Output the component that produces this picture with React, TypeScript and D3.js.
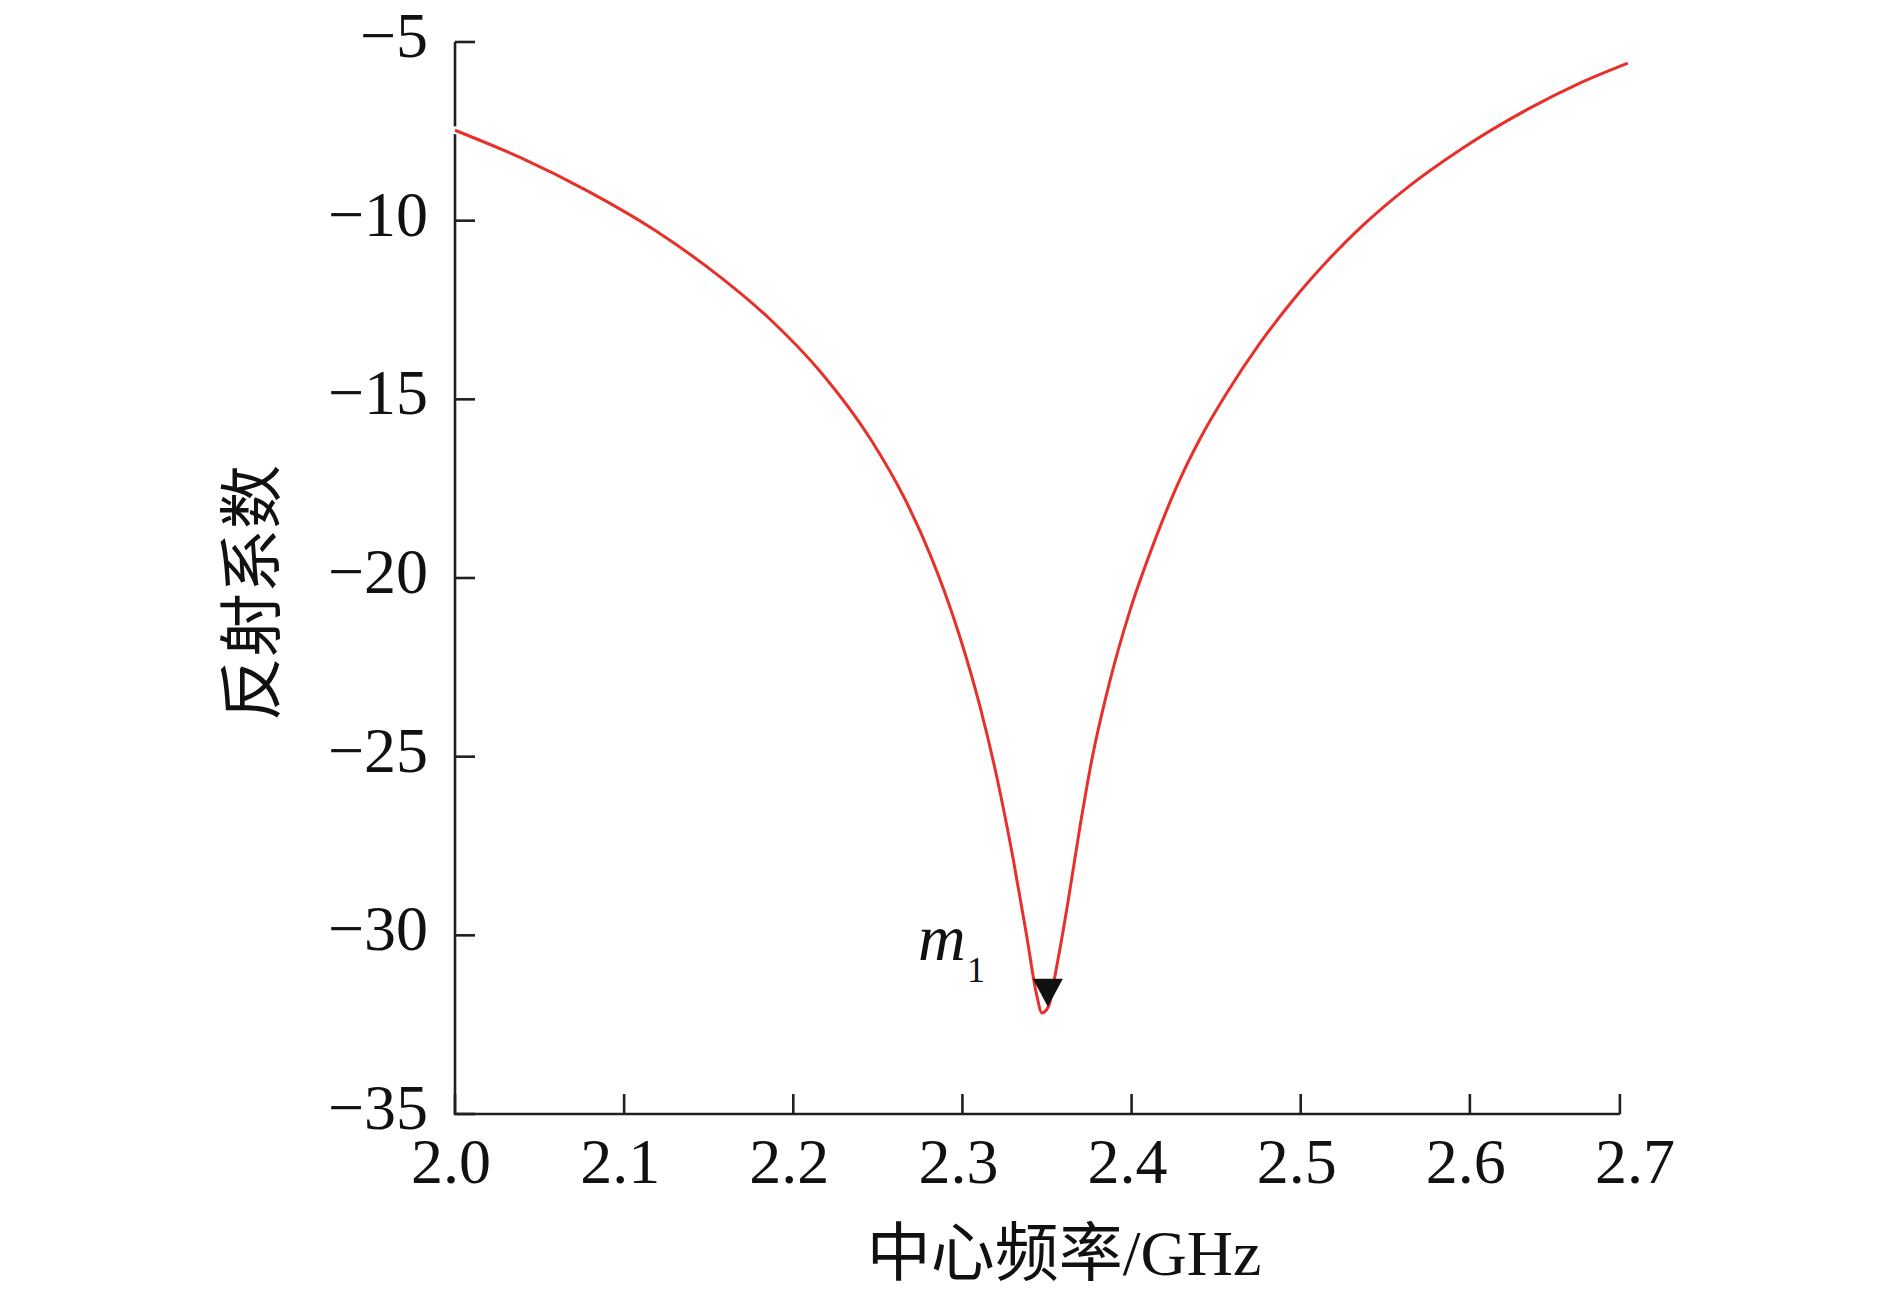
import React from "react";
import * as d3 from "d3";

// ---- data ----
const freqGHz = [
  2.0, 2.0394, 2.0788, 2.1182, 2.1577, 2.1872, 2.2168, 2.2463, 2.266, 2.2808,
  2.2897, 2.2985, 2.3103, 2.3202, 2.33, 2.3379, 2.3439, 2.347, 2.3508, 2.3557,
  2.3626, 2.3695, 2.3765, 2.3872, 2.399, 2.4138, 2.4266, 2.4404, 2.4562, 2.4759,
  2.4955, 2.5153, 2.535, 2.5645, 2.5941, 2.6335, 2.665, 2.6934,
];
const s11dB = [
  -7.47, -8.25, -9.18, -10.27, -11.61, -12.8, -14.27, -16.16, -17.79, -19.33,
  -20.42, -21.65, -23.58, -25.54, -27.86, -29.99, -31.67, -32.17, -32.0, -30.88,
  -29.01, -26.96, -25.09, -22.88, -20.92, -18.94, -17.45, -16.11, -14.83, -13.43,
  -12.22, -11.15, -10.21, -9.02, -8.02, -6.9, -6.15, -5.59,
];
const xTickValues = [2.0, 2.1, 2.2, 2.3, 2.4, 2.5, 2.6, 2.7];
const xTickLabels = ["2.0", "2.1", "2.2", "2.3", "2.4", "2.5", "2.6", "2.7"];
const xAxisEnd = 2.6887;
const yTickValues = [-5, -10, -15, -20, -25, -30, -35];
const markerFreq = 2.3505;
const markerValue = -32.0;
const markerLabel = "m";
const markerSub = "1";
const xTitle = "中心频率/GHz";
const yTitle = "反射系数";

const W = 1890;
const H = 1292;
const serif = "'Liberation Serif', 'Times New Roman', 'Noto Sans CJK SC', serif";
const axisColor = "#231f20";
const lineColor = "#e8302a";

export default function App() {
  const x = d3.scaleLinear().domain([2.0, 2.7]).range([455, 1639]);
  const y = d3.scaleLinear().domain([-5, -35]).range([42, 1114]);
  const pts: [number, number][] = freqGHz.map((f, i) => [f, s11dB[i]]);
  const line = d3
    .line<[number, number]>()
    .x((d) => x(d[0]))
    .y((d) => y(d[1]))
    .curve(d3.curveMonotoneX);
  const x0 = x(2.0);
  const xEnd = x(xAxisEnd);
  const yBottom = y(-35);
  const yTop = y(-5);
  const mx = x(markerFreq);
  const my = y(markerValue);
  const tri = `M${mx - 15},${my - 28} L${mx + 15},${my - 28} L${mx},${my} Z`;
  const xTickPositions = [...xTickValues.slice(0, -1), xAxisEnd];

  return (
    <svg
      width={W}
      height={H}
      style={{ position: "absolute", left: 0, top: 0, background: "#fff" }}
      fontFamily={serif}
    >
      <rect x={0} y={0} width={W} height={H} fill="#fff" />
      {/* axes */}
      <path
        d={`M${x0},${yTop} L${x0},${yBottom} L${xEnd},${yBottom}`}
        fill="none"
        stroke={axisColor}
        strokeWidth={2.6}
      />
      {yTickValues.map((v) => (
        <g key={"yt" + v}>
          <line x1={x0} x2={x0 + 20} y1={y(v)} y2={y(v)} stroke={axisColor} strokeWidth={2.6} />
          <text x={428} y={y(v) + 15} textAnchor="end" fontSize={64} fill="#111">
            {"\u2212" + Math.abs(v)}
          </text>
        </g>
      ))}
      {xTickPositions.map((v, i) => (
        <line
          key={"xt" + i}
          x1={x(v)}
          x2={x(v)}
          y1={yBottom}
          y2={yBottom - 20}
          stroke={axisColor}
          strokeWidth={2.6}
        />
      ))}
      {xTickValues.map((v, i) => (
        <text
          key={"xl" + i}
          x={x(v) - 4}
          y={1183}
          textAnchor="middle"
          fontSize={64}
          fill="#111"
        >
          {xTickLabels[i]}
        </text>
      ))}
      {/* curve */}
      <circle cx={x(freqGHz[0])} cy={y(s11dB[0])} r={4} fill="#fff" />
      <path d={line(pts) || ""} fill="none" stroke={lineColor} strokeWidth={3} />
      {/* marker */}
      <path d={tri} fill="#111" />
      <text x={918} y={960} fontSize={66} fontStyle="italic" fill="#111">
        {markerLabel}
      </text>
      <text x={967} y={982} fontSize={36} fill="#111">
        {markerSub}
      </text>
      {/* titles */}
      <text x={1064} y={1275} textAnchor="middle" fontSize={64} fill="#111">
        {xTitle}
      </text>
      <text
        transform={`translate(274, 593) rotate(-90)`}
        textAnchor="middle"
        fontSize={64}
        fill="#111"
      >
        {yTitle}
      </text>
    </svg>
  );
}
